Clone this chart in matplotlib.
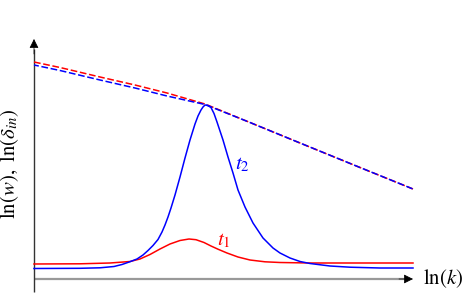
import numpy as np
import matplotlib.pyplot as plt

plt.rcParams['mathtext.fontset'] = 'stix'
plt.rcParams['font.family'] = ['Liberation Serif', 'DejaVu Serif']

x_t2 = np.array([0, 46, 66, 80, 88, 96, 103, 109, 114, 119, 124, 128, 131, 134, 137, 141, 146,
                 151, 156, 161, 164, 167, 169, 171, 174, 177, 180, 183, 186, 189, 194, 199, 204,
                 211, 219, 229, 239, 246, 256, 266, 276, 296, 316, 346, 379])
y_t2 = np.array([10.5, 10.7, 11.2, 12.5, 14.5, 17.3, 20, 24, 28.5, 33.5, 39.5, 47, 54, 62, 71, 84, 102,
                 121, 139, 155, 163, 169, 172, 174, 173.5, 171.5, 165.5, 157, 148, 139, 122, 106, 89,
                 72, 56, 41, 31, 26, 21, 17.5, 15.5, 13, 11.8, 11, 11])

x_t1 = np.array([0, 46, 76, 96, 106, 116, 126, 136, 146, 155, 162, 170, 177, 184, 193, 204,
                 216, 231, 246, 276, 379])
y_t1 = np.array([15, 15.2, 16, 17.5, 20, 24.5, 30, 35, 38.5, 40, 39.3, 36.5, 33, 29.8, 26, 22,
                 19, 17.2, 16.5, 16, 16])

x_delta = np.array([0, 26, 66, 101, 133, 171, 216, 266, 326, 379])
y_delta_t1 = np.array([217, 211.5, 202, 194, 186, 175, 156.5, 136, 111.5, 90])
y_delta_t2 = np.array([214, 208.5, 199, 191, 183, 174.5, 156.5, 136, 111.5, 90])

rot = '#ff0000'
blau = '#0000ff'

fig = plt.figure(figsize=(4.69, 2.94), dpi=100)
ax = fig.add_axes([0, 0, 1, 1])
ax.set_xlim(-34, 435)
ax.set_ylim(-15, 279)
ax.axis('off')

# achsen
ax.plot([0, 372], [0, 0], color='#999999', lw=1.6, solid_capstyle='butt')
ax.annotate('', xy=(379, 0), xytext=(365, 0),
            arrowprops=dict(arrowstyle='-|>', color='black', lw=0.5, mutation_scale=14, shrinkA=0, shrinkB=0))
ax.plot([0, 0], [-13, 230], color='#333333', lw=1.0, solid_capstyle='butt')
ax.annotate('', xy=(0, 240), xytext=(0, 225),
            arrowprops=dict(arrowstyle='-|>', color='black', lw=0.5, mutation_scale=14, shrinkA=0, shrinkB=0))

# gestrichelte kurven
muster = (4.4, 1.75)
ax.plot(x_delta, y_delta_t1, color=rot, lw=1.1, linestyle=(0, muster))
ax.plot(x_delta, y_delta_t2, color=blau, lw=1.1, linestyle=(1.2, muster))

# durchgezogene kurven
ax.plot(x_t1, y_t1, color=rot, lw=1.1)
ax.plot(x_t2, y_t2, color=blau, lw=1.1)

ax.text(208.5, 114.5, r'$t_{\mathit{2}}$', color=blau, fontsize=15, ha='center', va='center')
ax.text(189.5, 38.5, r'$t_{\mathit{1}}$', color=rot, fontsize=15, ha='center', va='center')
ax.text(389, 0, r'$\ln(k)$', color='black', fontsize=15, ha='left', va='center')
ax.text(-24, 115, r'$\ln(w),\ \ln(\delta_{in})$', color='black', fontsize=15,
        rotation=90, ha='center', va='center')

plt.savefig('out.png', dpi=100)
